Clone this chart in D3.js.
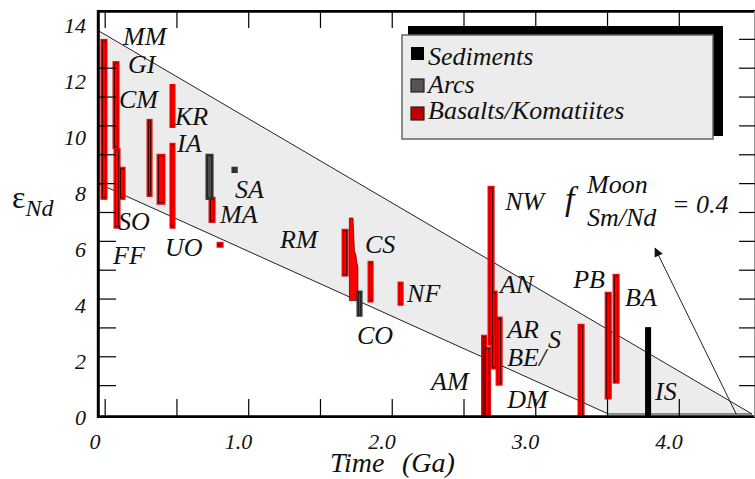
<!DOCTYPE html>
<html>
<head>
<meta charset="utf-8">
<script src="https://cdn.jsdelivr.net/npm/d3@7"></script>
<style>
  body { margin: 0; background: #fff; }
  svg { display: block; }
  .it { font-family: "Liberation Serif", "Times New Roman", "DejaVu Serif", serif; font-style: italic; fill: #111; }
</style>
</head>
<body>
<div id="graph"></div>
<script>
var width = 755, height = 479;

// axes
var xLabelValues = [0, 1, 2, 3, 4];
var xLabelText = ["0", "1.0", "2.0", "3.0", "4.0"];
var xTickValues = [0.05, 0.55, 1.05, 1.55, 2.05, 2.55, 3.05, 3.55, 4.05];
var yLabelValues = [0, 2, 4, 6, 8, 10, 12, 14];
var yTickLeft = [1, 2, 3, 4, 5, 6, 7, 8, 9, 10, 11, 12];
var yTickRight = [1, 2, 3, 4, 5, 6, 7, 8, 9, 10, 11, 12, 13];

// bars: [age from, age to (Ga), eNd low, eNd high]
var basalts = [
  [0.024, 0.066, 7.44, 12.98],
  [0.108, 0.150, 9.20, 12.21],
  [0.115, 0.157, 6.44, 9.20],
  [0.150, 0.192, 7.44, 8.55],
  [0.345, 0.380, 7.54, 10.21],
  [0.415, 0.470, 7.27, 9.00],
  [0.505, 0.540, 9.93, 11.42],
  [0.505, 0.540, 6.44, 9.38],
  [0.777, 0.819, 6.64, 7.51],
  [0.833, 0.875, 5.78, 5.95],
  [1.704, 1.746, 4.78, 6.40],
  [1.885, 1.920, 3.88, 5.29],
  [2.094, 2.129, 3.77, 4.57],
  [2.676, 2.711, -0.1, 2.73],
  [2.690, 2.739, -0.1, 2.32],
  [2.721, 2.763, 2.39, 7.89],
  [2.742, 2.784, 1.56, 4.26],
  [2.777, 2.819, 1.00, 3.36],
  [3.348, 3.390, -0.1, 3.11],
  [3.537, 3.579, 0.52, 4.22],
  [3.592, 3.634, 1.07, 4.84]
];
var arcs = [
  [0.756, 0.805, 7.44, 9.00],
  [0.937, 0.973, 8.37, 8.55],
  [1.808, 1.843, 3.39, 4.26]
];
var sediments = [
  [3.815, 3.857, -0.1, 3.01]
];
// stepped basalt outline near 1.78 Ga
var stepShape = [[1.755, 6.79], [1.780, 6.79], [1.790, 5.66], [1.800, 5.52], [1.807, 5.24],
  [1.814, 5.10], [1.814, 4.07], [1.800, 3.93], [1.755, 3.93]];

// Moon evolution band
var upperLine = [[0, 13.3], [4.56, 0]];
var lowerLine = [[0, 8.0], [3.56, 0]];
var floorLine = [[3.56, 0], [4.56, 0]];
var arrowLine = [[4.45, 0], [3.885, 5.74]];

// locality labels [text, age, eNd]
var labels = [
  ["MM", 0.178, 12.77], ["GI", 0.213, 11.83], ["CM", 0.150, 10.59],
  ["KR", 0.540, 10.0], ["IA", 0.554, 9.07], ["SA", 0.958, 7.47],
  ["MA", 0.854, 6.61], ["SO", 0.143, 6.37], ["FF", 0.108, 5.19],
  ["UO", 0.470, 5.47], ["RM", 1.272, 5.74], ["CS", 1.864, 5.57],
  ["NF", 2.157, 3.88], ["CO", 1.808, 2.42], ["AM", 2.324, 0.83],
  ["NW", 2.840, 7.06], ["AN", 2.805, 4.19], ["AR", 2.854, 2.63],
  ["S", 3.139, 2.28], ["BE/", 2.854, 1.66], ["DM", 2.854, 0.21],
  ["PB", 3.314, 4.36], ["BA", 3.676, 3.74], ["IS", 3.885, 0.48]
];

var legendItems = ["Sediments", "Arcs", "Basalts/Komatiites"];
var legendFill = ["#000", "#555", "#c00000"];

//-- Create the SVG --//
var svg = d3.select("#graph").append("svg")
  .attr("width", width)
  .attr("height", height);

var x = d3.scaleLinear().domain([0, 4.56]).range([97.5, 752]);
var y = d3.scaleLinear().domain([0, 13.93]).range([414, 12]);
// the printed numbers sit slightly off the tick marks
var yLbl = d3.scaleLinear().domain([0, 14]).range([417.5, 25.5]);

var line = d3.line()
  .x(function(d) { return x(d[0]); })
  .y(function(d) { return y(d[1]); });

// shaded band
svg.append("path")
  .attr("d", line([upperLine[0], upperLine[1], lowerLine[1], lowerLine[0]]) + "Z")
  .attr("fill", "#ececec");
[upperLine, lowerLine, floorLine].forEach(function(l) {
  svg.append("path").attr("d", line(l))
    .attr("stroke", "#222").attr("stroke-width", 1).attr("fill", "none");
});

// bars
function drawBars(data, fill, outer, inner) {
  var g = svg.append("g");
  g.selectAll(".o").data(data).enter().append("rect")
    .attr("x", function(d) { return x(d[0]); })
    .attr("width", function(d) { return x(d[1]) - x(d[0]); })
    .attr("y", function(d) { return y(d[3]); })
    .attr("height", function(d) { return y(d[2]) - y(d[3]); })
    .attr("fill", fill)
    .attr("stroke", outer)
    .attr("stroke-width", 1);
  g.selectAll(".i").data(data).enter().append("rect")
    .attr("x", function(d) { return x(d[0]) + 1.5; })
    .attr("width", function(d) { return Math.max(0, x(d[1]) - x(d[0]) - 3); })
    .attr("y", function(d) { return y(d[3]) + 1.5; })
    .attr("height", function(d) { return Math.max(0, y(d[2]) - y(d[3]) - 3); })
    .attr("fill", "none")
    .attr("stroke", inner)
    .attr("stroke-width", 1);
}
drawBars(basalts, "#ff0000", "#ee0000", "#4a0000");
svg.append("path")
  .attr("d", line(stepShape) + "Z")
  .attr("fill", "#ff0000").attr("stroke", "#700").attr("stroke-width", 0.8);
drawBars(arcs, "#4d4d4d", "#222", "#222");
svg.selectAll(".sed").data(sediments).enter().append("rect")
  .attr("x", function(d) { return x(d[0]); })
  .attr("width", function(d) { return x(d[1]) - x(d[0]); })
  .attr("y", function(d) { return y(d[3]); })
  .attr("height", function(d) { return y(d[2]) - y(d[3]); })
  .attr("fill", "#000");

// arrow
svg.append("defs").append("marker")
  .attr("id", "ah").attr("viewBox", "0 0 10 10")
  .attr("refX", 9).attr("refY", 5)
  .attr("markerWidth", 12).attr("markerHeight", 9)
  .attr("markerUnits", "userSpaceOnUse")
  .attr("orient", "auto")
  .append("path").attr("d", "M0,0L10,5L0,10Z").attr("fill", "#111");
svg.append("path").attr("d", line(arrowLine))
  .attr("stroke", "#222").attr("stroke-width", 1).attr("fill", "none")
  .attr("marker-end", "url(#ah)");

// frame
svg.append("line").attr("x1", 98.3).attr("x2", 98.3).attr("y1", 10).attr("y2", 418)
  .attr("stroke", "#000").attr("stroke-width", 3);
svg.append("line").attr("x1", 97).attr("x2", 755).attr("y1", 11.3).attr("y2", 11.3)
  .attr("stroke", "#000").attr("stroke-width", 2.7);
svg.append("line").attr("x1", 97).attr("x2", 755).attr("y1", 416.7).attr("y2", 416.7)
  .attr("stroke", "#000").attr("stroke-width", 2.7);
svg.append("line").attr("x1", 754.5).attr("x2", 754.5).attr("y1", 11).attr("y2", 417)
  .attr("stroke", "#999").attr("stroke-width", 1);

// tick marks
function ticks(axis, tx, ty) {
  var g = svg.append("g").attr("transform", "translate(" + tx + "," + ty + ")").call(axis);
  g.select(".domain").remove();
  g.selectAll("text").remove();
  g.selectAll("line").attr("stroke", "#000").attr("stroke-width", 1.2);
}
ticks(d3.axisLeft(y).tickValues(yTickLeft).tickSize(-18), 98, 0);
ticks(d3.axisRight(y).tickValues(yTickRight).tickSize(-16), 755, 0);
ticks(d3.axisTop(x).tickValues(xTickValues).tickSize(-16), 0, 12);
ticks(d3.axisBottom(x).tickValues(xTickValues).tickSize(-17), 0, 416);

// tick labels
var yl = svg.append("g").attr("transform", "translate(86,0)")
  .call(d3.axisLeft(yLbl).tickValues(yLabelValues).tickSize(0).tickPadding(0));
yl.select(".domain").remove();
yl.attr("font-family", null);
yl.selectAll("text").attr("class", "it").style("font-size", "22px");

var xl = svg.append("g").attr("transform", "translate(-3,433)")
  .call(d3.axisBottom(x).tickValues(xLabelValues).tickSize(0).tickPadding(0)
    .tickFormat(function(d, i) { return xLabelText[i]; }));
xl.select(".domain").remove();
xl.attr("font-family", null);
xl.selectAll("text").attr("class", "it").style("font-size", "22px");

// axis titles
var yt = svg.append("text").attr("x", 12).attr("y", 208)
  .style("font-family", "'Liberation Serif', 'DejaVu Serif', serif").style("font-size", "32px").attr("fill", "#111");
yt.append("tspan").text("ε");
yt.append("tspan").attr("class", "it").attr("dy", 8).style("font-size", "24px").text("Nd");

svg.append("text").attr("class", "it").attr("x", 330).attr("y", 472)
  .style("font-size", "28px").text("Time");
svg.append("text").attr("class", "it").attr("x", 402).attr("y", 472)
  .style("font-size", "28px").text("(Ga)");

// locality labels
svg.selectAll(".loc").data(labels).enter().append("text")
  .attr("class", "it")
  .attr("x", function(d) { return x(d[1]); })
  .attr("y", function(d) { return y(d[2]); })
  .style("font-size", "26px")
  .text(function(d) { return d[0]; });

// f Sm/Nd Moon = 0.4
var eq = svg.append("g");
eq.append("text").attr("class", "it").attr("x", 565).attr("y", 210).style("font-size", "34px").text("f");
eq.append("text").attr("class", "it").attr("x", 587).attr("y", 193).style("font-size", "26px").text("Moon");
eq.append("text").attr("class", "it").attr("x", 587).attr("y", 226).style("font-size", "26px").text("Sm/Nd");
eq.append("text").attr("class", "it").attr("x", 672).attr("y", 213).style("font-size", "26px").text("= 0.4");

// legend
var leg = svg.append("g");
leg.append("rect").attr("x", 408).attr("y", 26).attr("width", 315).attr("height", 110).attr("fill", "#000");
leg.append("rect").attr("x", 402).attr("y", 35).attr("width", 311).attr("height", 104)
  .attr("fill", "#ececec").attr("stroke", "#666").attr("stroke-width", 1.5);
var li = leg.selectAll(".li").data(legendItems).enter().append("g")
  .attr("transform", function(d, i) { return "translate(411," + [47, 79, 107][i] + ")"; });
li.append("rect").attr("width", 13).attr("height", 13)
  .attr("fill", function(d, i) { return legendFill[i]; })
  .attr("stroke", function(d, i) { return i === 0 ? "none" : "#222"; })
  .attr("stroke-width", 1.2);
li.append("text").attr("class", "it").attr("x", 17).attr("y", function(d, i) { return [18, 14, 12][i]; })
  .style("font-size", "26px").text(function(d) { return d; });
</script>
</body>
</html>
